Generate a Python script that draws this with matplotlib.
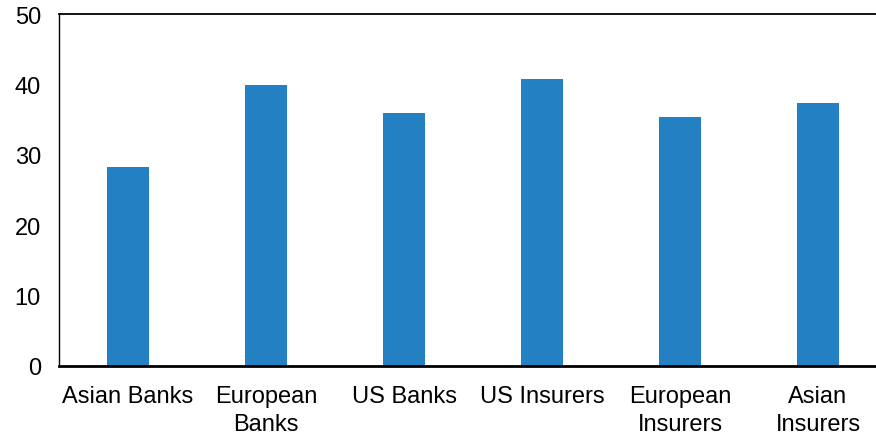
import matplotlib.pyplot as plt

categories = ["Asian Banks", "European\nBanks", "US Banks", "US Insurers",
              "European\nInsurers", "Asian\nInsurers"]
values = [28.2, 39.9, 35.9, 40.8, 35.4, 37.4]
yticks = [0, 10, 20, 30, 40, 50]

plt.rcParams['font.family'] = ['Liberation Sans', 'DejaVu Sans']

fig = plt.figure(figsize=(8.76, 4.35), dpi=100)
# plot box runs off the right edge of the figure
ax = fig.add_axes([59 / 876, 1 - 367 / 435, 1 - 59 / 876, 352 / 435])

x = range(len(categories))
ax.bar(x, values, width=0.31, color='#2381c3')

ax.set_xlim(-0.5, -0.5 + 817 / 138)
ax.set_ylim(0, 50)
ax.set_yticks(yticks)
ax.set_xticks(list(x))
ax.set_xticklabels(categories, linespacing=1.3)

ax.tick_params(axis='both', length=0, labelsize=17, colors='black')
ax.tick_params(axis='y', pad=13)
ax.tick_params(axis='x', pad=14)

ax.spines['right'].set_visible(False)
ax.spines['bottom'].set_linewidth(2.0)
ax.spines['top'].set_linewidth(1.3)
ax.spines['left'].set_linewidth(1.0)

fig.savefig('out.png', dpi=100)
